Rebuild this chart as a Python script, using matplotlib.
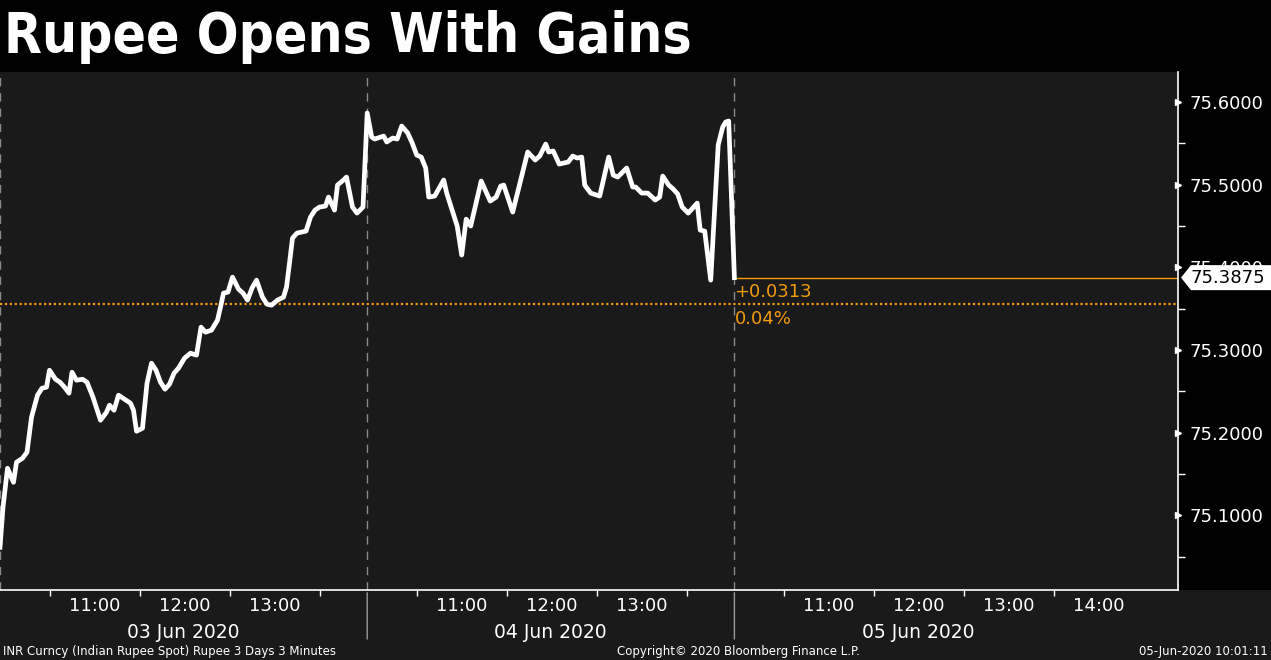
import numpy as np
import matplotlib
matplotlib.use('Agg')
import matplotlib.pyplot as plt
import matplotlib.transforms as mtransforms
from matplotlib.patches import Polygon, Rectangle

# datos (INR spot, barras de 3 minutos)
days = ['03 Jun 2020', '04 Jun 2020', '05 Jun 2020']

times_d3 = ['09:57', '09:59', '10:02', '10:06', '10:08', '10:12', '10:15', '10:18', '10:22', '10:25',
            '10:28', '10:30', '10:34', '10:37', '10:40', '10:43', '10:45', '10:48', '10:52', '10:55',
            '10:59', '11:04', '11:08', '11:10', '11:13', '11:16', '11:20', '11:24', '11:26', '11:28',
            '11:32', '11:35', '11:38', '11:41', '11:44', '11:47', '11:50', '11:53', '11:56', '12:00',
            '12:04', '12:08', '12:11', '12:14', '12:18', '12:22', '12:24', '12:26', '12:29', '12:32',
            '12:36', '12:39', '12:42', '12:45', '12:48', '12:52', '12:55', '12:58', '13:02', '13:06',
            '13:08', '13:10', '13:12', '13:15', '13:21', '13:24', '13:27', '13:30', '13:34', '13:36',
            '13:40', '13:42', '13:46', '13:48', '13:52', '13:55', '13:59']
values_d3 = [75.0612, 75.1097, 75.1569, 75.1399, 75.1642, 75.1690, 75.1763, 75.2186, 75.2453, 75.2537,
             75.2550, 75.2755, 75.2646, 75.2610, 75.2550, 75.2477, 75.2731, 75.2634, 75.2646, 75.2610,
             75.2428, 75.2150, 75.2247, 75.2332, 75.2271, 75.2453, 75.2404, 75.2356, 75.2271, 75.2017,
             75.2053, 75.2598, 75.2840, 75.2755, 75.2610, 75.2525, 75.2586, 75.2719, 75.2780, 75.2901,
             75.2961, 75.2937, 75.3276, 75.3215, 75.3240, 75.3361, 75.3518, 75.3688, 75.3700, 75.3881,
             75.3736, 75.3688, 75.3603, 75.3748, 75.3845, 75.3639, 75.3554, 75.3542, 75.3603, 75.3639,
             75.3760, 75.4051, 75.4353, 75.4414, 75.4438, 75.4608, 75.4692, 75.4729, 75.4741, 75.4850,
             75.4692, 75.4995, 75.5056, 75.5092, 75.4729, 75.4656, 75.4729]

times_d4 = ['09:57', '10:00', '10:02', '10:08', '10:10', '10:14', '10:17', '10:20', '10:24', '10:27',
            '10:30', '10:33', '10:36', '10:38', '10:42', '10:48', '10:50', '10:54', '10:57', '11:00',
            '11:03', '11:06', '11:13', '11:19', '11:23', '11:26', '11:28', '11:34', '11:44', '11:49',
            '11:52', '11:56', '11:58', '12:01', '12:05', '12:11', '12:14', '12:17', '12:20', '12:22',
            '12:26', '12:32', '12:38', '12:41', '12:44', '12:50', '12:54', '12:56', '13:00', '13:04',
            '13:09', '13:12', '13:14', '13:18', '13:21', '13:24', '13:27', '13:31', '13:37', '13:39',
            '13:42', '13:46', '13:51', '13:54', '13:56', '13:58']
values_d4 = [75.5867, 75.5576, 75.5552, 75.5588, 75.5516, 75.5564, 75.5552, 75.5709, 75.5625, 75.5504,
             75.5358, 75.5334, 75.5201, 75.4850, 75.4862, 75.5056, 75.4898, 75.4668, 75.4499, 75.4148,
             75.4583, 75.4499, 75.5044, 75.4801, 75.4850, 75.4983, 75.4995, 75.4668, 75.5395, 75.5298,
             75.5346, 75.5491, 75.5395, 75.5407, 75.5249, 75.5274, 75.5346, 75.5322, 75.5334, 75.4995,
             75.4898, 75.4862, 75.5334, 75.5116, 75.5092, 75.5201, 75.4971, 75.4971, 75.4898, 75.4898,
             75.4814, 75.4850, 75.5104, 75.4995, 75.4947, 75.4886, 75.4729, 75.4656, 75.4777, 75.4450,
             75.4438, 75.3845, 75.5479, 75.5697, 75.5758, 75.5770]

times_d5 = ['09:57']
values_d5 = [75.3875]

last_price = 75.3875
prev_close = 75.3562
change = '+0.0313'
change_pct = '0.04%'

y_ticks = [75.1, 75.2, 75.3, 75.4, 75.5, 75.6]
y_minor = [75.05, 75.15, 75.25, 75.35, 75.45, 75.55]
hour_labels = ['11:00', '12:00', '13:00']
hour_labels_d5 = ['11:00', '12:00', '13:00', '14:00']
half_hours = ['10:30', '11:30', '12:30', '13:30']

SESSION_START = 9 + 57 / 60.0
DAY_SPAN = 4.08
ORANGE = '#f29b0e'
BG = '#1a1a1a'


def hh(t):
    h, m = t.split(':')
    return int(h) + int(m) / 60.0


def to_x(day_idx, t):
    return day_idx * DAY_SPAN + hh(t) - SESSION_START


xs = [to_x(0, t) for t in times_d3] + [to_x(1, t) for t in times_d4] + [to_x(2, t) for t in times_d5]
ys = values_d3 + values_d4 + values_d5

fig = plt.figure(figsize=(12.71, 6.60), dpi=100)
fig.patch.set_facecolor('black')
fig.patches.append(Rectangle((0, 0), 1, 70 / 660, transform=fig.transFigure,
                             facecolor=BG, edgecolor='none', zorder=-5))

ax = fig.add_axes([0, 70 / 660, 1178 / 1271, 518 / 660])
ax.set_facecolor(BG)

# lineas verticales de separacion de dias
for i in range(3):
    ax.axvline(i * DAY_SPAN, color='#8a8a8a', lw=1, ls=(0, (6, 5)), zorder=1)

ax.axhline(prev_close, color=ORANGE, lw=1.6, ls=(0, (1, 1.2)), zorder=2)
ax.hlines(last_price, 2 * DAY_SPAN, 1178 / 90, color=ORANGE, lw=1, zorder=2)

ax.plot(xs, ys, color='white', lw=3.4, solid_joinstyle='round', zorder=3)

ax.text(2 * DAY_SPAN, last_price - 0.006, change, color=ORANGE, fontsize=13, va='top', ha='left')
ax.text(2 * DAY_SPAN, last_price - 0.039, change_pct, color=ORANGE, fontsize=13, va='top', ha='left')

# ejes
for s in ['top', 'left']:
    ax.spines[s].set_visible(False)
ax.spines['right'].set_color('white')
ax.spines['bottom'].set_color('white')
ax.spines['right'].set_linewidth(1.2)
ax.spines['bottom'].set_linewidth(1.2)

ax.yaxis.tick_right()
ax.set_yticks(y_ticks)
ax.set_yticklabels(['%.4f' % v for v in y_ticks])
ax.set_yticks(y_minor, minor=True)
ax.tick_params(axis='y', which='major', length=0, pad=8, labelsize=13, labelcolor='white')
ax.tick_params(axis='y', which='minor', length=5, width=1, color='white', direction='out')

major_x = []
major_lab = []
minor_x = []
for i in range(3):
    labs = hour_labels_d5 if i == 2 else hour_labels
    for lab in labs:
        major_x.append(to_x(i, lab))
        major_lab.append(lab)
    for m in half_hours:
        minor_x.append(to_x(i, m))
ax.set_xticks(major_x)
ax.set_xticklabels(major_lab)
ax.set_xticks(minor_x, minor=True)
ax.tick_params(axis='x', which='major', length=0, pad=5, labelsize=13, labelcolor='white')
ax.tick_params(axis='x', which='minor', length=4, width=1, color='white', direction='out')

# limites despues de los ticks (set_ticks puede ampliar la vista)
ax.set_xlim(0, 1178 / 90)
ax.set_ylim(75.0096, 75.6363)

bt = mtransforms.blended_transform_factory(ax.transAxes, ax.transData)
ax.plot([1.0] * len(y_ticks), y_ticks, ls='none', marker='>', ms=5, color='white',
        transform=bt, clip_on=False, zorder=5)

for i, d in enumerate(days):
    ax.annotate(d, xy=(i * DAY_SPAN + DAY_SPAN / 2, 0), xycoords=('data', 'axes fraction'),
                xytext=(0, -24), textcoords='offset points', ha='center', va='top',
                color='white', fontsize=13.5, annotation_clip=False)

# separadores en la banda inferior
for i in range(1, 3):
    ax.annotate('', xy=(i * DAY_SPAN, 0), xycoords=('data', 'axes fraction'),
                xytext=(i * DAY_SPAN, -0.1), textcoords=('data', 'axes fraction'),
                arrowprops=dict(arrowstyle='-', color='#9a9a9a', lw=1), annotation_clip=False)

# etiqueta del ultimo precio
fig.canvas.draw()
x0, y0 = bt.transform((1.0, last_price))
poly = Polygon([[x0 + 3, y0], [x0 + 13, y0 + 12.5], [1271, y0 + 12.5], [1271, y0 - 12.5], [x0 + 13, y0 - 12.5]],
               closed=True, facecolor='white', edgecolor='none', transform=None, zorder=10)
fig.patches.append(poly)
fig.text((x0 + 12) / 1271, y0 / 660, '%.4f' % last_price, color='black', fontsize=13,
         ha='left', va='center', zorder=11)

fig.text(4 / 1271, 1 - 37 / 660, 'Rupee Opens With Gains', color='white', fontsize=39.5,
         fontweight='bold', fontstretch='condensed', ha='left', va='center')

fig.text(3 / 1271, 9 / 660, 'INR Curncy (Indian Rupee Spot) Rupee 3 Days 3 Minutes', color='white',
         fontsize=8.5, ha='left', va='center')
fig.text(738 / 1271, 9 / 660, 'Copyright\u00a9 2020 Bloomberg Finance L.P.', color='white',
         fontsize=8.5, ha='center', va='center')
fig.text(1268 / 1271, 9 / 660, '05-Jun-2020 10:01:11', color='white',
         fontsize=8.5, ha='right', va='center')

fig.savefig('out.png', dpi=100, facecolor=fig.get_facecolor())
